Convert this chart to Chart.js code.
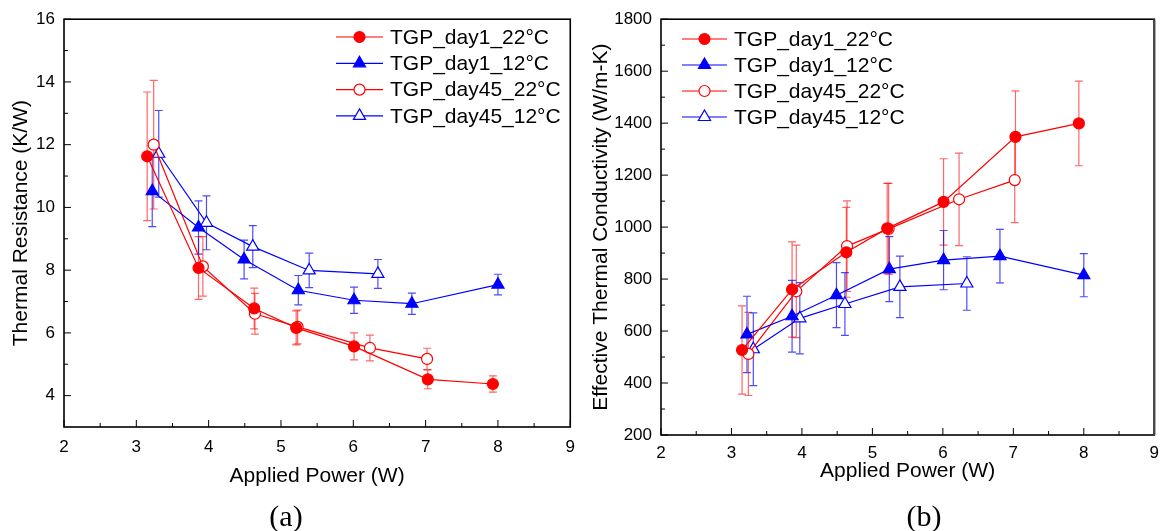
<!DOCTYPE html>
<html>
<head>
<meta charset="utf-8">
<script src="https://cdn.jsdelivr.net/npm/chart.js@4.4.1/dist/chart.umd.min.js"></script>
<style>
  html, body { margin: 0; padding: 0; background: #fff; }
  #wrap { position: relative; width: 1167px; height: 531px; overflow: hidden; }
  .panel { position: absolute; top: 0; height: 531px; }
  #panelA { left: 0; width: 585px; }
  #panelB { left: 585px; width: 582px; }
  .tag { position: absolute; top: 516px; transform: translate(-50%, -50%);
         font-family: "Liberation Serif", "DejaVu Serif", serif; font-size: 30px; color: #000; }
</style>
</head>
<body>
<div id="wrap">
  <div class="panel" id="panelA"><canvas id="chartA"></canvas></div>
  <div class="panel" id="panelB"><canvas id="chartB"></canvas></div>
  <div class="tag" style="left:286px">(a)</div>
  <div class="tag" style="left:924px">(b)</div>
</div>
<script>
// Séries (potência aplicada em W)
const labels = ['TGP_day1_22°C', 'TGP_day1_12°C', 'TGP_day45_22°C', 'TGP_day45_12°C'];
const powerDay1_22  = [3.15, 3.86, 4.63, 5.21, 6.01, 7.03, 7.93];
const powerDay1_12  = [3.22, 3.86, 4.49, 5.24, 6.01, 6.81, 8.00];
const powerDay45_22 = [3.24, 3.92, 4.64, 5.23, 6.23, 7.02];
const powerDay45_12 = [3.31, 3.97, 4.61, 5.39, 6.34];

// (a) Resistência térmica (K/W)
const resDay1_22  = [11.63, 8.07, 6.78, 6.16, 5.57, 4.52, 4.37];
const resErrDay1_22  = [2.05, 1.00, 0.65, 0.54, 0.43, 0.30, 0.26];
const resDay1_12  = [10.52, 9.36, 8.34, 7.36, 7.04, 6.93, 7.54];
const resErrDay1_12  = [1.13, 0.85, 0.62, 0.47, 0.42, 0.34, 0.33];
const resDay45_22 = [12.00, 8.12, 6.61, 6.19, 5.52, 5.17];
const resErrDay45_22 = [2.05, 0.95, 0.65, 0.54, 0.41, 0.34];
const resDay45_12 = [11.71, 9.51, 8.75, 7.99, 7.88];
const resErrDay45_12 = [1.38, 0.86, 0.67, 0.55, 0.46];

// (b) Condutividade térmica efetiva (W/m-K)
const condDay1_22  = [527, 760, 903, 995, 1097, 1347, 1399];
const condErrDay1_22  = [170, 183, 173, 173, 166, 177, 163];
const condDay1_12  = [587, 657, 738, 838, 873, 888, 815];
const condErrDay1_12  = [147, 138, 125, 125, 114, 103, 83];
const condDay45_22 = [512, 753, 927, 993, 1107, 1181];
const condErrDay45_22 = [160, 178, 174, 175, 178, 164];
const condDay45_12 = [530, 649, 704, 770, 783];
const condErrDay45_12 = [140, 137, 121, 118, 103];

const FONT = "'Liberation Sans', Arial, sans-serif";
const RED = '#ff0000', BLUE = '#0000ff';
const RED_ERR = 'rgba(255,0,0,0.6)', BLUE_ERR = 'rgba(0,0,255,0.7)';

function makeSet(label, xs, ys, errs, color, errColor, style, filled) {
  return {
    label,
    data: xs.map((x, i) => ({ x, y: ys[i] })),
    errors: errs,
    errColor,
    showLine: true,
    borderColor: color,
    borderWidth: 1.2,
    pointStyle: style,
    pointRadius: style === 'triangle' ? 7 : 5.5,
    pointBackgroundColor: filled ? color : '#fff',
    pointBorderColor: color,
    pointBorderWidth: 1.2,
    tension: 0
  };
}

// barras de erro
const errorBars = {
  id: 'errorBars',
  beforeDatasetsDraw(chart) {
    const { ctx, scales: { x, y } } = chart;
    ctx.save();
    ctx.lineWidth = 1.2;
    chart.data.datasets.forEach(ds => {
      ctx.strokeStyle = ds.errColor;
      ds.data.forEach((p, i) => {
        const px = x.getPixelForValue(p.x);
        const top = y.getPixelForValue(p.y + ds.errors[i]);
        const bot = y.getPixelForValue(p.y - ds.errors[i]);
        ctx.beginPath();
        ctx.moveTo(px, top); ctx.lineTo(px, bot);
        ctx.moveTo(px - 4, top); ctx.lineTo(px + 4, top);
        ctx.moveTo(px - 4, bot); ctx.lineTo(px + 4, bot);
        ctx.stroke();
      });
    });
    ctx.restore();
  }
};

// moldura + ticks para dentro
const frameTicks = {
  id: 'frameTicks',
  afterDraw(chart, args, opts) {
    const { ctx, chartArea: a, scales: { x, y } } = chart;
    ctx.save();
    ctx.strokeStyle = '#000';
    ctx.lineWidth = 1;
    ctx.beginPath();
    x.ticks.forEach(t => {
      const px = x.getPixelForValue(t.value);
      ctx.moveTo(px, a.bottom); ctx.lineTo(px, a.bottom - 7);
      const mx = x.getPixelForValue(t.value + opts.xMinor);
      if (mx < a.right - 1) { ctx.moveTo(mx, a.bottom); ctx.lineTo(mx, a.bottom - 4); }
    });
    y.ticks.forEach(t => {
      const py = y.getPixelForValue(t.value);
      ctx.moveTo(a.left, py); ctx.lineTo(a.left + 7, py);
      const my = y.getPixelForValue(t.value + opts.yMinor);
      if (my > a.top + 1) { ctx.moveTo(a.left, my); ctx.lineTo(a.left + 4, my); }
    });
    ctx.stroke();
    ctx.lineWidth = 1.6;
    ctx.strokeRect(a.left, a.top, a.right - a.left, a.bottom - a.top);
    if (opts.rightEdge) {
      ctx.strokeStyle = opts.rightEdge;
      ctx.lineWidth = 2.2;
      ctx.beginPath();
      ctx.moveTo(a.right, a.top); ctx.lineTo(a.right, a.bottom);
      ctx.stroke();
    }
    ctx.restore();
  }
};

// legenda com linha + marcador
const lineLegend = {
  id: 'lineLegend',
  afterDraw(chart, args, opts) {
    const { ctx } = chart;
    ctx.save();
    ctx.font = `21px ${FONT}`;
    ctx.textBaseline = 'middle';
    chart.data.datasets.forEach((ds, i) => {
      const y = opts.top + i * opts.rowH;
      const cx = opts.left + opts.lineW / 2;
      ctx.strokeStyle = ds.borderColor;
      ctx.lineWidth = 1.2;
      ctx.beginPath();
      ctx.moveTo(opts.left, y); ctx.lineTo(opts.left + opts.lineW, y);
      ctx.stroke();
      ctx.fillStyle = ds.pointBackgroundColor;
      ctx.beginPath();
      const r = ds.pointRadius;
      if (ds.pointStyle === 'triangle') {
        ctx.moveTo(cx, y - r);
        ctx.lineTo(cx + r * Math.sin(2 * Math.PI / 3), y + r / 2);
        ctx.lineTo(cx - r * Math.sin(2 * Math.PI / 3), y + r / 2);
        ctx.closePath();
      } else {
        ctx.arc(cx, y, r, 0, Math.PI * 2);
      }
      ctx.fill();
      ctx.stroke();
      ctx.fillStyle = '#000';
      ctx.fillText(ds.label, opts.textX, y + 1);
    });
    ctx.restore();
  }
};

function axisX(titlePad, tickPad, height) {
  return {
    type: 'linear', min: 2, max: 9,
    ticks: { stepSize: 1, color: '#000', font: { family: FONT, size: 17 }, padding: tickPad },
    grid: { display: false, drawTicks: false },
    border: { display: false },
    title: { display: true, text: 'Applied Power (W)', color: '#000',
             font: { family: FONT, size: 21 }, padding: { top: 0, bottom: titlePad } },
    afterFit: s => { s.height = height; }
  };
}

function axisY(min, max, step, title, titlePad, width) {
  return {
    type: 'linear', min, max,
    ticks: { stepSize: step, color: '#000', font: { family: FONT, size: 17 }, padding: 9,
             callback: v => String(v) },
    afterBuildTicks: s => { s.ticks = s.ticks.filter(t => t.value % step === 0); },
    grid: { display: false, drawTicks: false },
    border: { display: false },
    title: { display: true, text: title, color: '#000',
             font: { family: FONT, size: 21 }, padding: { top: titlePad, bottom: 0 } },
    afterFit: s => { s.width = width; }
  };
}

// Gráfico (a)
new Chart(document.getElementById('chartA'), {
  type: 'scatter',
  data: {
    datasets: [
      makeSet(labels[0], powerDay1_22, resDay1_22, resErrDay1_22, RED, RED_ERR, 'circle', true),
      makeSet(labels[1], powerDay1_12, resDay1_12, resErrDay1_12, BLUE, BLUE_ERR, 'triangle', true),
      makeSet(labels[2], powerDay45_22, resDay45_22, resErrDay45_22, RED, RED_ERR, 'circle', false),
      makeSet(labels[3], powerDay45_12, resDay45_12, resErrDay45_12, BLUE, BLUE_ERR, 'triangle', false)
    ]
  },
  options: {
    responsive: true, maintainAspectRatio: false, animation: false,
    layout: { padding: { top: 16, right: 8, left: 0, bottom: 0 } },
    plugins: {
      legend: { display: false }, tooltip: { enabled: false },
      lineLegend: { left: 336, lineW: 47, textX: 390, top: 37, rowH: 26.3 },
      frameTicks: { xMinor: 0.5, yMinor: 1 }
    },
    scales: {
      x: axisX(42, 10, 104),
      y: axisY(3, 16, 2, 'Thermal Resistance (K/W)', 9, 64)
    }
  },
  plugins: [errorBars, frameTicks, lineLegend]
});

// Gráfico (b)
new Chart(document.getElementById('chartB'), {
  type: 'scatter',
  data: {
    datasets: [
      makeSet(labels[0], powerDay1_22, condDay1_22, condErrDay1_22, RED, RED_ERR, 'circle', true),
      makeSet(labels[1], powerDay1_12, condDay1_12, condErrDay1_12, BLUE, BLUE_ERR, 'triangle', true),
      makeSet(labels[2], powerDay45_22, condDay45_22, condErrDay45_22, RED, RED_ERR, 'circle', false),
      makeSet(labels[3], powerDay45_12, condDay45_12, condErrDay45_12, BLUE, BLUE_ERR, 'triangle', false)
    ]
  },
  options: {
    responsive: true, maintainAspectRatio: false, animation: false,
    layout: { padding: { top: 19, right: 10, left: 0, bottom: 0 } },
    plugins: {
      legend: { display: false }, tooltip: { enabled: false },
      lineLegend: { left: 97, lineW: 45, textX: 149, top: 39, rowH: 26 },
      frameTicks: { xMinor: 0.5, yMinor: 100, rightEdge: '#444' }
    },
    scales: {
      x: axisX(47, 8, 96),
      y: axisY(200, 1800, 200, 'Effective Thermal Conductivity (W/m-K)', 4, 76)
    }
  },
  plugins: [errorBars, frameTicks, lineLegend]
});
</script>
</body>
</html>
